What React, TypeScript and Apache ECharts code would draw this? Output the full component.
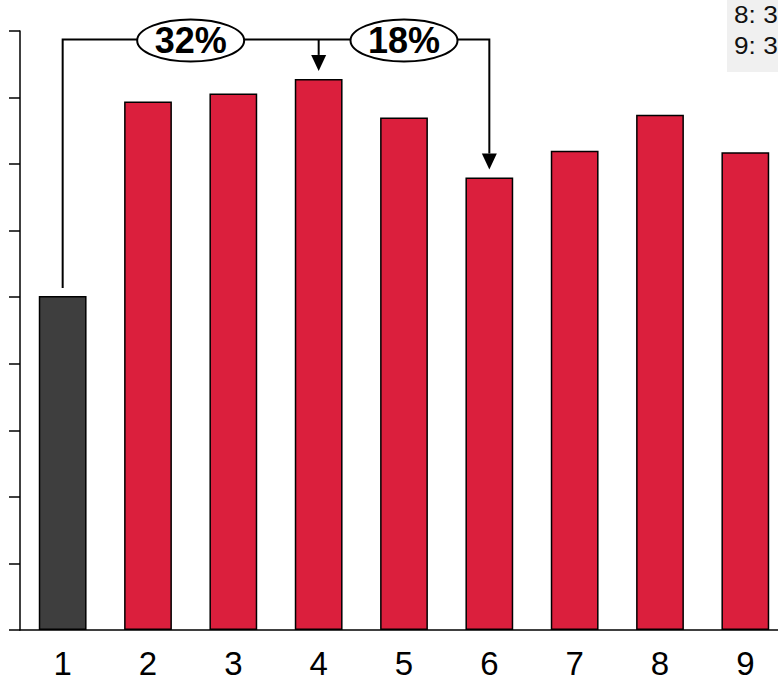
import React, { useEffect, useRef } from "react";
import * as echarts from "echarts";

const categories = ["1", "2", "3", "4", "5", "6", "7", "8", "9"];
const values = [25.1, 39.7, 40.3, 41.4, 38.5, 34.0, 36.0, 38.7, 35.9];
const barColors = ["#3e3e3e", "#db1f3d", "#db1f3d", "#db1f3d", "#db1f3d", "#db1f3d", "#db1f3d", "#db1f3d", "#db1f3d"];
const yMin = 0;
const yMax = 45;
const yInterval = 5;
const comparisons = [
  { from: 0, to: 3, label: "32%" },
  { from: 3, to: 5, label: "18%" },
];
const legendLines = ["8: 3", "9: 3"];

const FONT = "'Liberation Sans', Arial, Helvetica, sans-serif";

export default function App() {
  const ref = useRef<HTMLDivElement>(null);
  useEffect(() => {
    if (!ref.current) return;
    const chart = echarts.init(ref.current, undefined, { renderer: "svg" });
    chart.setOption({
      animation: false,
      grid: {
        left: 20,
        top: 31,
        width: 768,
        height: 599,
        containLabel: false,
        outerBoundsMode: "none",
      },
      xAxis: {
        type: "category",
        data: categories,
        axisLine: { show: true, lineStyle: { color: "#000", width: 1.5 } },
        axisTick: { show: false },
        axisLabel: { fontSize: 33, color: "#000", fontFamily: FONT, margin: 17 },
      },
      yAxis: {
        type: "value",
        min: yMin,
        max: yMax,
        interval: yInterval,
        axisLine: { show: true, lineStyle: { color: "#000", width: 1.5 } },
        axisTick: { show: true, length: 11, inside: false, lineStyle: { color: "#000", width: 1.5 } },
        axisLabel: { show: false },
        splitLine: { show: false },
      },
      series: [
        {
          type: "bar",
          barWidth: "56%",
          data: values.map((v, i) => ({
            value: v,
            itemStyle: { color: barColors[i], borderColor: "#000", borderWidth: 1.5 },
          })),
        },
      ],
    });

    const pt = (i: number) => chart.convertToPixel({ gridIndex: 0 }, [i, values[i]]) as number[];
    const lineY = 39.5;
    const gap = 8;
    const arrowH = 16;
    const arrowHalf = 7.5;
    const elements: any[] = [];
    const first = pt(comparisons[0].from);
    const last = pt(comparisons[comparisons.length - 1].to);
    elements.push({
      type: "polyline",
      z: 10,
      shape: {
        points: [
          [first[0], first[1] - gap],
          [first[0], lineY],
          [last[0], lineY],
          [last[0], last[1] - gap - arrowH],
        ],
      },
      style: { stroke: "#000", lineWidth: 2, fill: null },
    });
    comparisons.forEach((c, k) => {
      const a = pt(c.from);
      const b = pt(c.to);
      const tipY = b[1] - gap;
      if (k < comparisons.length - 1) {
        elements.push({
          type: "line",
          z: 10,
          shape: { x1: b[0], y1: lineY, x2: b[0], y2: tipY - arrowH },
          style: { stroke: "#000", lineWidth: 2 },
        });
      }
      elements.push({
        type: "polygon",
        z: 11,
        shape: {
          points: [
            [b[0] - arrowHalf, tipY - arrowH],
            [b[0] + arrowHalf, tipY - arrowH],
            [b[0], tipY],
          ],
        },
        style: { fill: "#000" },
      });
      const cx = (a[0] + b[0]) / 2;
      elements.push({
        type: "ellipse",
        z: 12,
        shape: { cx, cy: 40.5, rx: 53.5, ry: 21 },
        style: { fill: "#fff", stroke: "#000", lineWidth: 2 },
      });
      elements.push({
        type: "text",
        z: 13,
        style: {
          text: c.label,
          x: cx,
          y: 40,
          align: "center",
          verticalAlign: "middle",
          fontSize: 36,
          fontWeight: "bold",
          fontFamily: FONT,
          fill: "#000",
        },
      });
    });
    elements.push({
      type: "rect",
      z: 20,
      shape: { x: 727, y: -10, width: 80, height: 82 },
      style: { fill: "#f0f0f0" },
    });
    legendLines.forEach((t, i) => {
      elements.push({
        type: "text",
        z: 21,
        x: 734,
        y: 15.5 + i * 31,
        scaleX: 1.14,
        style: {
          text: t,
          x: 0,
          y: 0,
          align: "left",
          verticalAlign: "middle",
          fontSize: 23,
          fontFamily: FONT,
          fill: "#111",
        },
      });
    });
    chart.setOption({ graphic: { elements } });

    return () => chart.dispose();
  }, []);
  return (
    <div
      ref={ref}
      style={{ position: "fixed", left: 0, top: 0, width: 778, height: 682, background: "#fff" }}
    />
  );
}
